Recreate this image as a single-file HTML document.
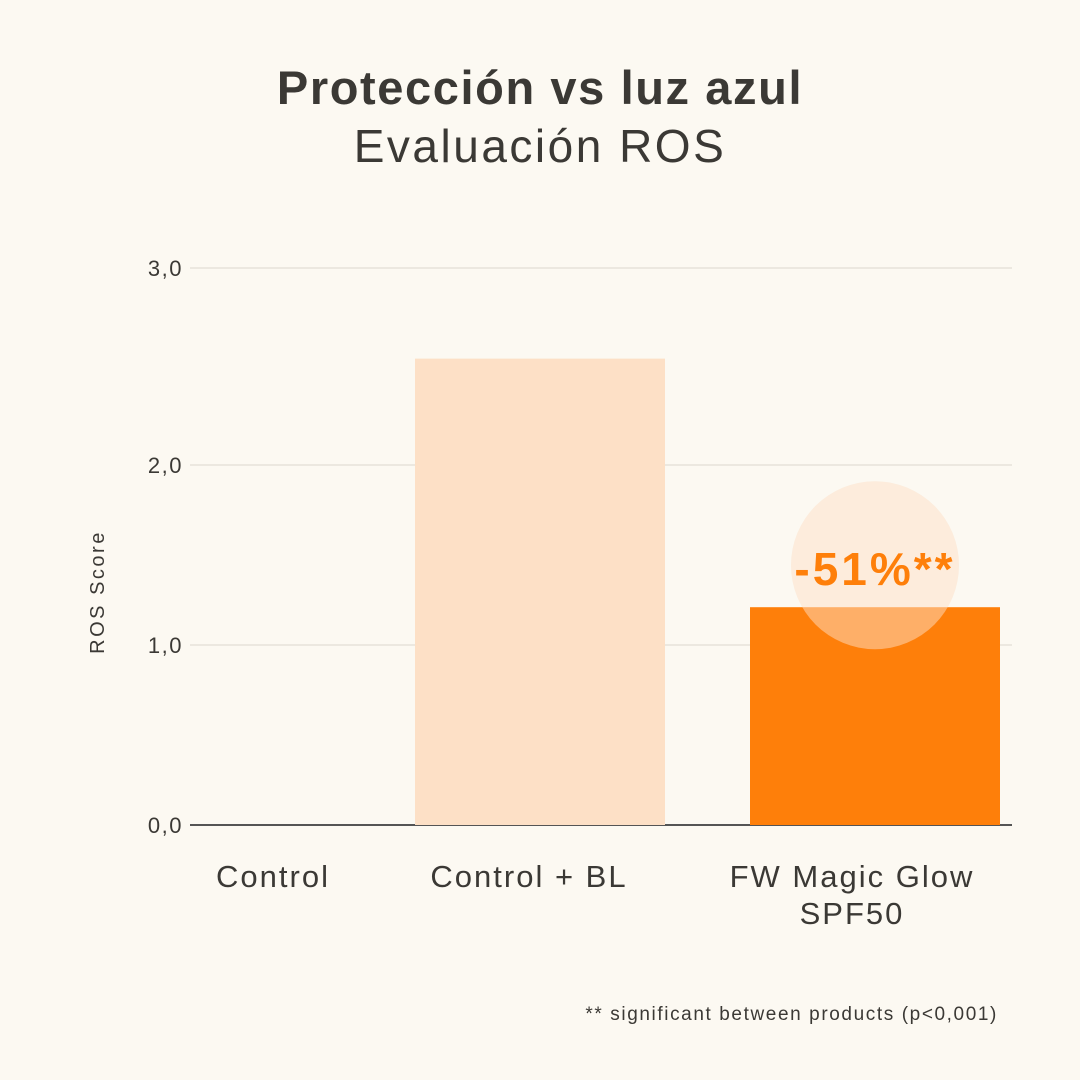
<!DOCTYPE html>
<html><head><meta charset="utf-8"><style>
body{margin:0;background:#fcf9f2;}
svg{display:block;font-family:"Liberation Sans",sans-serif;}
</style></head><body>
<svg id="chart" width="1080" height="1080" viewBox="0 0 1080 1080">
<rect width="1080" height="1080" fill="#fcf9f2"/>
<text x="540" y="104" text-anchor="middle" font-size="47" font-weight="bold" letter-spacing="1.6" fill="#3b3935">Protección vs luz azul</text>
<text x="540" y="162" text-anchor="middle" font-size="46" letter-spacing="2.5" fill="#3b3935">Evaluación ROS</text>
<text transform="translate(104,592) rotate(-90)" text-anchor="middle" font-size="20" letter-spacing="2.5" fill="#3b3935">ROS Score</text>
<g id="grid"></g><g id="bars"></g><g id="labels"></g>
<text x="998" y="1020" text-anchor="end" font-size="19" letter-spacing="1.6" fill="#3b3935">** significant between products (p&lt;0,001)</text>
</svg>
<script>
const categories=["Control","Control + BL","FW Magic Glow SPF50"];
const values=[0,2.54,1.21];
const tickValues=[0,1,2,3];
const tickLabels=["0,0","1,0","2,0","3,0"];
const annotation="-51%**";
const NS="http://www.w3.org/2000/svg";
const tickPix=[825,645,465,268];
function y(v){for(let i=0;i<tickValues.length-1;i++){if(v<=tickValues[i+1]||i==tickValues.length-2){const t=(v-tickValues[i])/(tickValues[i+1]-tickValues[i]);return tickPix[i]+t*(tickPix[i+1]-tickPix[i]);}}}
const barCenters=[205,540,875],labelCenters=[273,529,852];
function x(i){return barCenters[i];}
function mk(tag,attrs,parent,txt){const e=document.createElementNS(NS,tag);for(const k in attrs)e.setAttribute(k,attrs[k]);if(txt!==undefined)e.textContent=txt;parent.appendChild(e);return e;}
const grid=document.getElementById('grid'),bars=document.getElementById('bars'),labels=document.getElementById('labels');
tickValues.forEach((v,i)=>{
 const l=mk('line',{x1:190,x2:1012,y1:y(v),y2:y(v),stroke:v===0?'#555':'#e6e2da','stroke-width':v===0?2:1.5},grid);
 
 
 const t=mk('text',{x:183,y:y(v)+8,'text-anchor':'end','font-size':22,'letter-spacing':1.5,fill:'#3b3935'},grid,tickLabels[i]);
 
 
});
const colors=['#fde0c6','#fde0c6','#fe7f0a'];
categories.forEach((c,i)=>{
 const top=y(values[i]),b=y(0);
 const r=mk('rect',{x:x(i)-125,y:top,width:250,height:b-top,fill:colors[i]},bars);
 
 
});
const words=[["Control"],["Control + BL"],["FW Magic Glow","SPF50"]];
words.forEach((ls,i)=>ls.forEach((s,j)=>{
 const t=mk('text',{x:labelCenters[i],y:887+j*37,'text-anchor':'middle','font-size':31,'letter-spacing':2,fill:'#3b3935'},labels,s);
 
 
}));
const cy=y(values[2])-42;
const circ=mk('circle',{cx:x(2),cy:cy,r:84,fill:'#fde0c6','fill-opacity':0.5},labels);


const at=mk('text',{x:x(2),y:cy+20,'text-anchor':'middle','font-size':46,'font-weight':'bold','letter-spacing':3,fill:'#fe7f0a'},labels,annotation);


</script>
</body></html>
